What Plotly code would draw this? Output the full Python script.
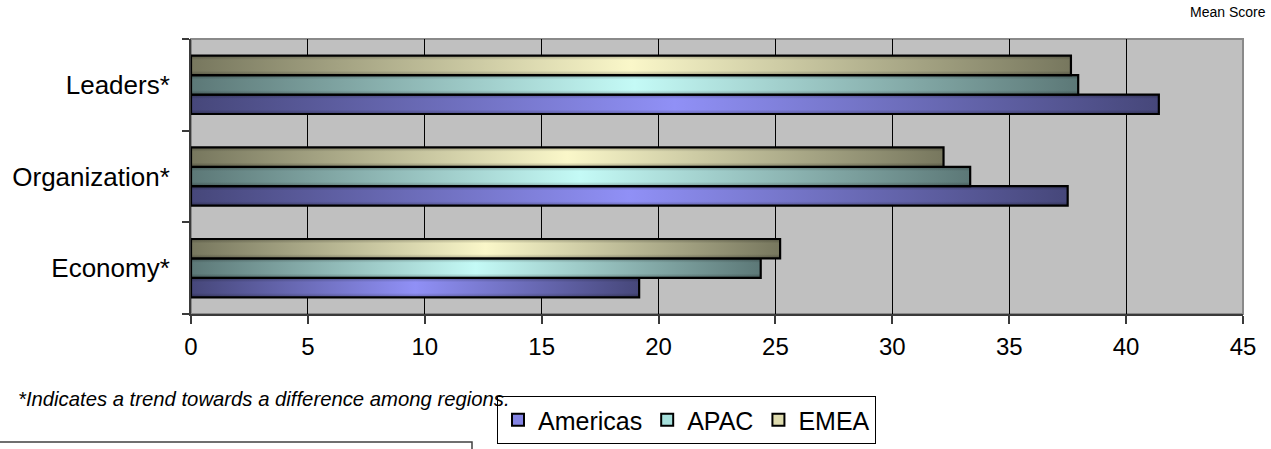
import plotly.graph_objects as go

# Mean scores by region for each driver
categories = ["Economy*", "Organization*", "Leaders*"]
regions = ["Americas", "APAC", "EMEA"]
americas = [19.17, 37.5, 41.4]
apac = [24.37, 33.33, 37.95]
emea = [25.2, 32.19, 37.64]
x_ticks = [0, 5, 10, 15, 20, 25, 30, 35, 40, 45]

series = {"Americas": americas, "APAC": apac, "EMEA": emea}

# dark edge / light centre colours for the bar gradients, plus a legend swatch colour
palette = {
    "Americas": ("#46477a", "#9090f6", "#8484e4"),
    "APAC": ("#5c7877", "#c4faf6", "#a6e0dc"),
    "EMEA": ("#77775e", "#faf7c9", "#dedbae"),
}

bar_h = 0.212  # bar thickness in category units
offsets = {"Americas": -bar_h, "APAC": 0.0, "EMEA": bar_h}

fig = go.Figure()

for name in regions:
    dark, light, _ = palette[name]
    for ci, val in enumerate(series[name]):
        yc = ci + offsets[name]
        y0, y1 = yc - bar_h / 2, yc + bar_h / 2
        xs = [0, val, val, 0, 0]
        ys = [y0, y0, y1, y1, y0]
        # body with a horizontal dark-light-dark gradient
        fig.add_trace(go.Scatter(
            x=xs, y=ys, mode="lines", fill="toself",
            fillgradient=dict(type="horizontal", start=0, stop=val,
                              colorscale=[[0, dark], [0.5, light], [1, dark]]),
            line=dict(width=0), hoverinfo="skip", showlegend=False))
        # subtle rounded shading along top and bottom edges
        fig.add_trace(go.Scatter(
            x=xs, y=ys, mode="lines", fill="toself",
            fillgradient=dict(type="vertical", start=y0, stop=y1,
                              colorscale=[[0, "rgba(0,0,0,0.28)"], [0.22, "rgba(0,0,0,0)"],
                                          [0.78, "rgba(0,0,0,0)"], [1, "rgba(0,0,0,0.28)"]]),
            line=dict(color="black", width=2.2), hoverinfo="skip", showlegend=False))

# legend swatches
for name in regions:
    fig.add_trace(go.Scatter(
        x=[None], y=[None], mode="markers", name=name,
        marker=dict(symbol="square", size=13, color=palette[name][2],
                    line=dict(color="black", width=1.6))))

L, R, T, B = 191, 28, 39, 135
W, H = 1271, 449
pw, ph = W - L - R, H - T - B

def px_x(p):
    return (p - L) / pw

def px_y(p):
    return (H - B - p) / ph

fig.update_layout(
    width=W, height=H,
    margin=dict(l=L, r=R, t=T, b=B, pad=0, autoexpand=False),
    paper_bgcolor="white", plot_bgcolor="#c0c0c0",
    font=dict(family="Liberation Sans, Arial, sans-serif", color="black"),
    xaxis=dict(range=[0, 45], tickvals=x_ticks, showgrid=True, gridcolor="black",
               gridwidth=1, zeroline=False, showline=True, linecolor="#3a3a3a", linewidth=2,
               ticks="outside", ticklen=8, tickcolor="#3a3a3a", tickwidth=1.5,
               ticklabelstandoff=2, tickfont=dict(size=24), fixedrange=True),
    yaxis=dict(range=[-0.5, 2.5], tickvals=[0, 1, 2], ticktext=categories,
               showgrid=False, zeroline=False, showline=True, linecolor="#3a3a3a", linewidth=2,
               ticks="", ticklabelstandoff=14, tickfont=dict(size=26),
               minor=dict(tickvals=[-0.5, 0.5, 1.5, 2.5], ticks="outside", ticklen=7,
                          tickcolor="#3a3a3a", tickwidth=1.5, showgrid=False),
               fixedrange=True),
    showlegend=True,
    legend=dict(orientation="h", x=px_x(497), y=px_y(396), xanchor="left", yanchor="top",
                bgcolor="white", bordercolor="black", borderwidth=1,
                font=dict(size=25), itemsizing="constant", itemwidth=30,
                entrywidth=0, tracegroupgap=0),
    shapes=[
        dict(type="rect", xref="paper", yref="paper", x0=0, x1=1, y0=0, y1=1,
             line=dict(color="#8a8a8a", width=2), layer="below"),
        dict(type="path", xref="paper", yref="paper",
             path=f"M {px_x(0)},{px_y(442)} L {px_x(472)},{px_y(442)} L {px_x(472)},{px_y(452)}",
             line=dict(color="#404040", width=1.5)),
    ],
    annotations=[
        dict(text="Mean Score", xref="paper", yref="paper", x=px_x(1268), y=px_y(12),
             xanchor="right", yanchor="middle", showarrow=False, font=dict(size=14)),
        dict(text="<i>*Indicates a trend towards a difference among regions.</i>",
             xref="paper", yref="paper", x=px_x(16), y=px_y(399),
             xanchor="left", yanchor="middle", showarrow=False, font=dict(size=20.3)),
    ],
)

fig.write_html("out.html")
